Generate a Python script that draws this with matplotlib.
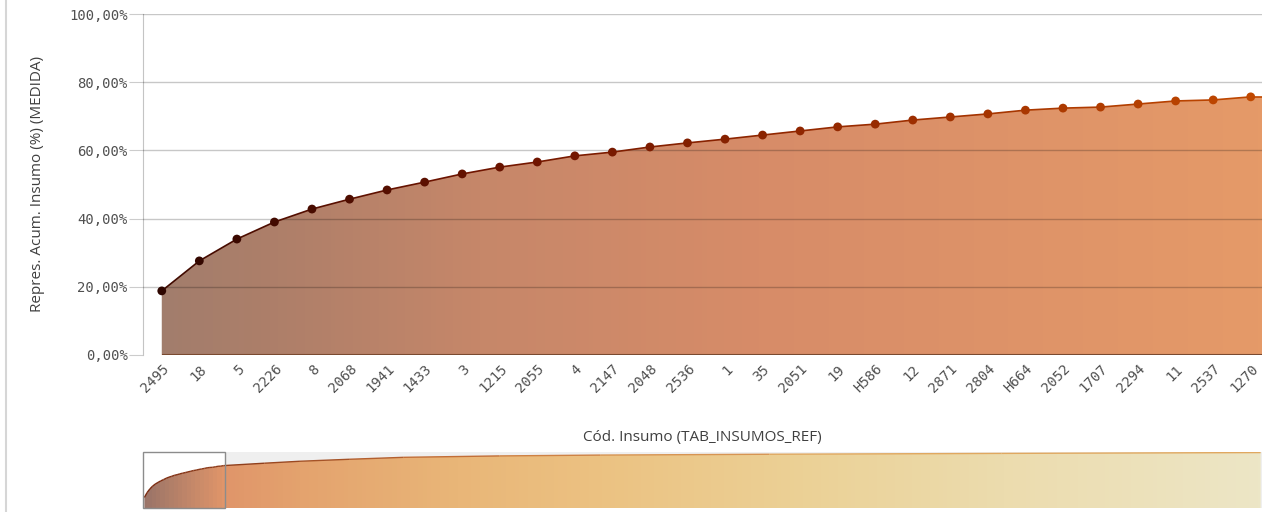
import numpy as np
import matplotlib.pyplot as plt
from matplotlib.colors import LinearSegmentedColormap
from matplotlib.collections import LineCollection
from matplotlib.patches import Rectangle
from matplotlib.ticker import FuncFormatter

# codes shown in the scrolled window of the chart
codes = ['2495', '18', '5', '2226', '8', '2068', '1941', '1433', '3', '1215',
         '2055', '4', '2147', '2048', '2536', '1', '35', '2051', '19', 'H586',
         '12', '2871', '2804', 'H664', '2052', '1707', '2294', '11', '2537', '1270']
# cumulative share (%)
acum = [18.8, 27.6, 34.0, 39.0, 42.8, 45.7, 48.4, 50.7, 53.1, 55.1,
        56.6, 58.4, 59.5, 61.0, 62.2, 63.3, 64.5, 65.7, 66.9, 67.7,
        68.9, 69.8, 70.7, 71.8, 72.4, 72.7, 73.6, 74.5, 74.8, 75.7]

# overview strip at the bottom (whole list, ~410 codes), values read roughly
ov_item_tail = [44, 57, 75, 95, 130, 167, 229, 314, 409]
ov_acum_tail = [80.0, 83.5, 87.0, 90.5, 93.0, 94.5, 96.0, 97.5, 99.0]
n_total = 410

fill_cmap = LinearSegmentedColormap.from_list('fill', [
    (0.0, '#a07d6d'), (0.12, '#ae7f69'), (0.30, '#c6876a'),
    (0.55, '#d78c68'), (1.0, '#e59a68')])
ov_cmap = LinearSegmentedColormap.from_list('ov', [
    (0.0, '#9a7468'), (0.07, '#e0956a'), (0.14, '#e4a36e'), (0.28, '#e9b678'),
    (0.41, '#ecc282'), (0.59, '#ebd196'), (0.77, '#ecdcae'), (1.0, '#ece6c6')])
mark_cmap = LinearSegmentedColormap.from_list('mark', ['#2e0600', '#6e1400', '#9a2c00', '#c04800'])

mono = 'DejaVu Sans Mono'
sans = 'Open Sans'

fig = plt.figure(figsize=(12.67, 5.12), dpi=100)

# ---- main chart ----
ax = fig.add_axes([143/1267, 157/512, 1119/1267, 341/512])
x = np.arange(len(codes))
xmax = 29.3
ax.set_xlim(-0.5, xmax)
ax.set_ylim(0, 100)

xf = np.append(x, xmax)
yf = np.append(acum, acum[-1])
poly = ax.fill_between(xf, 0, yf, facecolor='none', edgecolor='none')
grad = np.linspace(0, 1, 256).reshape(1, -1)
im = ax.imshow(grad, cmap=fill_cmap, aspect='auto', extent=[-0.5, xmax, 0, 100], zorder=1)
im.set_clip_path(poly.get_paths()[0], transform=ax.transData)

# dark bottom edge of the area
ax.plot([0, xmax], [0, 0], color='#7a4a30', lw=1.5, zorder=2, solid_capstyle='butt')

# grid lines drawn over the area
for v in [20, 40, 60, 80, 100]:
    ax.axhline(v, color='black', alpha=0.22, lw=1, zorder=3)

# line with colour running from dark to orange-red
pts = np.column_stack([xf, yf])
segs = np.stack([pts[:-1], pts[1:]], axis=1)
seg_cols = mark_cmap(np.linspace(0.1, 1, len(segs)))
ax.add_collection(LineCollection(segs, colors=seg_cols, linewidths=1.2, zorder=4))
ax.scatter(x, acum, s=40, c=np.linspace(0, 1, len(x)), cmap=mark_cmap, zorder=5, linewidths=0)

ax.set_xticks(x)
ax.set_xticklabels(codes, rotation=45, ha='right', va='top', rotation_mode='anchor',
                   fontfamily=mono, fontsize=10, color='#505050')
ax.tick_params(axis='x', length=0, pad=5)
ax.set_yticks([0, 20, 40, 60, 80, 100])
ax.yaxis.set_major_formatter(FuncFormatter(lambda v, _: f"{v:.2f}%".replace('.', ',')))
for t in ax.get_yticklabels():
    t.set_fontfamily(mono)
    t.set_fontsize(10)
    t.set_color('#505050')
ax.tick_params(axis='y', length=10, color='#cccccc', pad=1)
for s in ['top', 'right', 'bottom']:
    ax.spines[s].set_visible(False)
ax.spines['left'].set_color('#c4c4c4')
ax.set_ylabel('Repres. Acum. Insumo (%) (MEDIDA)', fontfamily=sans, fontsize=11, color='#404040')
ax.yaxis.set_label_coords(-0.0876, 0.5)
fig.text(702/1267, 1 - 438/512, 'Cód. Insumo (TAB_INSUMOS_REF)', ha='center', va='center',
         fontfamily=sans, fontsize=11, color='#404040')

# ---- overview strip ----
ax2 = fig.add_axes([143/1267, 4/512, 1119/1267, 56/512])
ov_x = np.concatenate([x, ov_item_tail])
ov_y = np.concatenate([acum, ov_acum_tail])
ax2.set_xlim(-0.5, n_total - 0.5)
ax2.set_ylim(0, 100)
ax2.set_facecolor('#efefef')
ax2.add_patch(Rectangle((-0.5, 0), len(codes), 100, facecolor='white', edgecolor='none', zorder=0.5))
ov_poly = ax2.fill_between(ov_x, 0, ov_y, facecolor='none', edgecolor='none')
im2 = ax2.imshow(grad, cmap=ov_cmap, aspect='auto', extent=[-0.5, n_total - 0.5, 0, 100], zorder=1)
im2.set_clip_path(ov_poly.get_paths()[0], transform=ax2.transData)
ov_line_cols = LinearSegmentedColormap.from_list('ovl', ['#7a2a10', '#c8733a', '#e0a860'])
ov_pts = np.column_stack([ov_x, ov_y])
ov_segs = np.stack([ov_pts[:-1], ov_pts[1:]], axis=1)
ax2.add_collection(LineCollection(ov_segs, colors=ov_line_cols(ov_x[:-1] / n_total * 2.0), linewidths=1, zorder=2))
ax2.add_patch(Rectangle((-0.5, 0), len(codes), 100, facecolor='none', edgecolor='#8c8c8c',
                        lw=1, zorder=3, clip_on=False))
ax2.set_xticks([])
ax2.set_yticks([])
for s in ax2.spines.values():
    s.set_visible(False)

# panel border on the left
fig.add_artist(plt.Line2D([6/1267, 6/1267], [0, 1], transform=fig.transFigure, color='#d6d6d6', lw=1.5))

fig.savefig('out.png', dpi=100)
